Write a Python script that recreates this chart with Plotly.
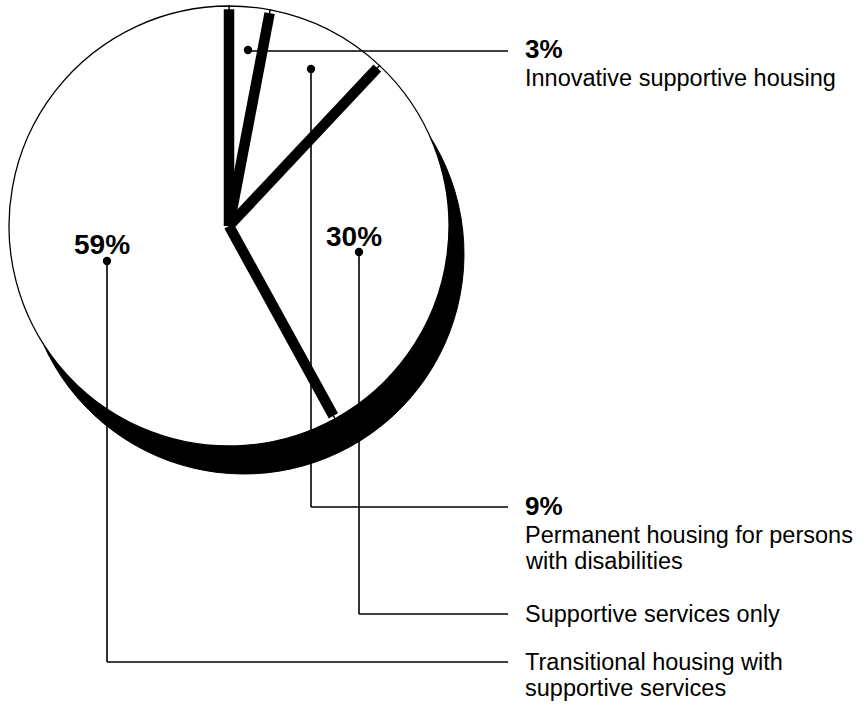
import plotly.graph_objects as go

# Share of funding by program type (percent)
categories = [
    "Innovative supportive housing",
    "Permanent housing for persons with disabilities",
    "Supportive services only",
    "Transitional housing with supportive services",
]
shares = [3, 9, 30, 59]
share_labels = ["3%", "9%", "30%", "59%"]

W, H = 868, 705
FONT = "Liberation Sans, Arial, Helvetica, sans-serif"


def fx(x):
    return x / W


def fy(y):
    return 1 - y / H


# Wedge geometry from the shares (clockwise from 12 o'clock);
# the last wedge closes the circle so rounded shares never overlap.
starts, spans = [], []
acc = 0.0
for i, s in enumerate(shares):
    a0 = acc * 3.6
    starts.append(a0)
    spans.append(360 - a0 if i == len(shares) - 1 else s * 3.6)
    acc += s
mids = [a + w / 2 for a, w in zip(starts, spans)]

R_RANGE = 1.01
PIE_R = 220 * R_RANGE


def domain(cx, cy):
    return dict(x=[fx(cx - PIE_R), fx(cx + PIE_R)],
                y=[fy(cy + PIE_R), fy(cy - PIE_R)])


def polar_style(cx, cy):
    return dict(
        domain=domain(cx, cy),
        bgcolor="rgba(0,0,0,0)",
        bargap=0,
        radialaxis=dict(visible=False, range=[0, R_RANGE], showgrid=False,
                        showline=False, showticklabels=False, ticks=""),
        angularaxis=dict(visible=False, rotation=90, direction="clockwise",
                         showgrid=False, showline=False, showticklabels=False,
                         ticks=""),
    )


fig = go.Figure()

# Drop shadow behind the pie
fig.add_trace(go.Barpolar(
    r=[1] * len(shares), theta=mids, width=spans,
    marker=dict(color="black", line=dict(color="black", width=1)),
    hoverinfo="skip", showlegend=False, subplot="polar",
))

# White wedges with a thin outline
fig.add_trace(go.Barpolar(
    r=[1] * len(shares), theta=mids, width=spans,
    marker=dict(color="white", line=dict(color="black", width=1.3)),
    hoverinfo="skip", showlegend=False, subplot="polar2",
))

# Heavy black dividers between wedges
sep_r, sep_t = [], []
for a in starts:
    sep_r += [0, 0.985, None]
    sep_t += [a, a, None]
fig.add_trace(go.Scatterpolar(
    r=sep_r, theta=sep_t, mode="lines",
    line=dict(color="black", width=10.5),
    hoverinfo="skip", showlegend=False, subplot="polar2",
))

# Callouts: dot position and elbow height
LINE_END = 508
TEXT_X = 523
callouts = [
    (248, 50, 51),
    (311, 69, 507),
    (359, 252, 614),
    (107, 261, 662),
]

shapes = []
for (dx, dy, ey) in callouts:
    if abs(ey - dy) > 2:
        shapes.append(dict(type="line", xref="paper", yref="paper",
                           x0=fx(dx), y0=fy(dy), x1=fx(dx), y1=fy(ey),
                           line=dict(color="black", width=1.6), layer="above"))
    shapes.append(dict(type="line", xref="paper", yref="paper",
                       x0=fx(dx), y0=fy(ey), x1=fx(LINE_END), y1=fy(ey),
                       line=dict(color="black", width=1.6), layer="above"))
    r = 4.2
    shapes.append(dict(type="circle", xref="paper", yref="paper",
                       x0=fx(dx - r), y0=fy(dy + r), x1=fx(dx + r), y1=fy(dy - r),
                       fillcolor="black", line=dict(color="black", width=0),
                       layer="above"))

annotations = []


def add_text(text, x, y, size, bold=False, xanchor="left"):
    annotations.append(dict(
        text=f"<b>{text}</b>" if bold else text,
        x=fx(x), y=fy(y), xref="paper", yref="paper",
        xanchor=xanchor, yanchor="middle", showarrow=False,
        font=dict(family=FONT, size=size, color="black"),
    ))


BODY = 23.5
add_text(share_labels[0], TEXT_X, 48.5, 26, bold=True)
add_text("Innovative supportive housing", TEXT_X, 77.5, BODY)
add_text(share_labels[1], TEXT_X, 506, 26, bold=True)
add_text("Permanent housing for persons", TEXT_X, 535, BODY)
add_text("with disabilities", TEXT_X, 561, BODY)
add_text("Supportive services only", TEXT_X, 614, BODY)
add_text("Transitional housing with", TEXT_X, 662, BODY)
add_text("supportive services", TEXT_X, 688, BODY)

# Percentages inside the pie
add_text(share_labels[2], 354, 236, 28, bold=True, xanchor="center")
add_text(share_labels[3], 102, 244, 28, bold=True, xanchor="center")

fig.update_layout(
    width=W, height=H,
    margin=dict(l=0, r=0, t=0, b=0),
    paper_bgcolor="white",
    plot_bgcolor="white",
    polar=polar_style(244, 254),
    polar2=polar_style(229, 226),
    shapes=shapes,
    annotations=annotations,
    showlegend=False,
)

fig.write_html("out.html")
